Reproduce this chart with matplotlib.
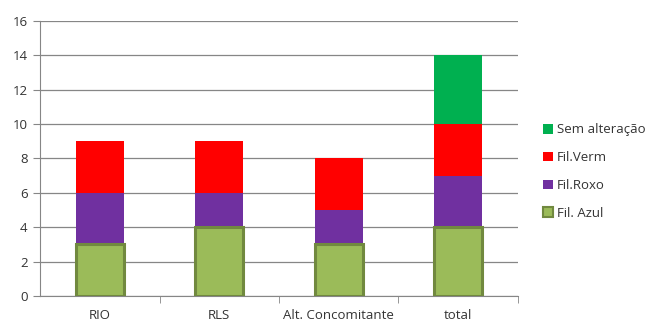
import numpy as np
import matplotlib
matplotlib.use('Agg')
import matplotlib.pyplot as plt
from matplotlib.patches import Patch

plt.rcParams['font.family'] = ['Open Sans', 'DejaVu Sans']

categories = ['RIO', 'RLS', 'Alt. Concomitante', 'total']
fil_azul = [3, 4, 3, 4]
fil_roxo = [3, 2, 2, 3]
fil_verm = [3, 3, 3, 3]
sem_alt = [0, 0, 0, 4]

fig = plt.figure(figsize=(6.48, 3.22), dpi=100)
ax = fig.add_axes([0.062, 0.081, 0.737, 0.854])

x = np.arange(len(categories))
w = 0.4
azul = np.array(fil_azul)
roxo = np.array(fil_roxo)
verm = np.array(fil_verm)
sem = np.array(sem_alt)

ax.bar(x, azul, w, color='#9BBB59', edgecolor='#71893F', linewidth=2.2, zorder=3)
ax.bar(x, roxo, w, bottom=azul, color='#7030A0', zorder=2)
ax.bar(x, verm, w, bottom=azul + roxo, color='#FF0000', zorder=2)
ax.bar(x, sem, w, bottom=azul + roxo + verm, color='#00B050', zorder=2)

ax.set_xlim(-0.5, 3.5)
ax.set_ylim(0, 16)
ax.set_yticks(range(0, 17, 2))
ax.set_xticks(x)
ax.set_xticklabels(categories)
ax.set_xticks(np.arange(0.5, 4, 1), minor=True)
ax.tick_params(axis='x', which='major', length=0, pad=9.5)
ax.tick_params(axis='x', which='minor', length=5, color='#868686')
ax.tick_params(axis='y', length=5, color='#868686', pad=4)
ax.tick_params(labelsize=9.5, labelcolor='#333333')
ax.yaxis.grid(True, color='#868686', linewidth=0.9, zorder=0)
ax.set_axisbelow(True)
for s in ['top', 'right']:
    ax.spines[s].set_visible(False)
for s in ['left', 'bottom']:
    ax.spines[s].set_color('#868686')

handles = [
    Patch(facecolor='#00B050', label='Sem alteração'),
    Patch(facecolor='#FF0000', label='Fil.Verm'),
    Patch(facecolor='#7030A0', label='Fil.Roxo'),
    Patch(facecolor='#9BBB59', edgecolor='#71893F', linewidth=1.5, label='Fil. Azul'),
]
fig.legend(handles=handles, loc='center left', bbox_to_anchor=(0.82, 0.467),
           frameon=False, fontsize=9.5, handlelength=0.75, handleheight=0.75,
           handletextpad=0.3, labelspacing=1.12, labelcolor='#333333')

fig.savefig('out.png', dpi=100)
